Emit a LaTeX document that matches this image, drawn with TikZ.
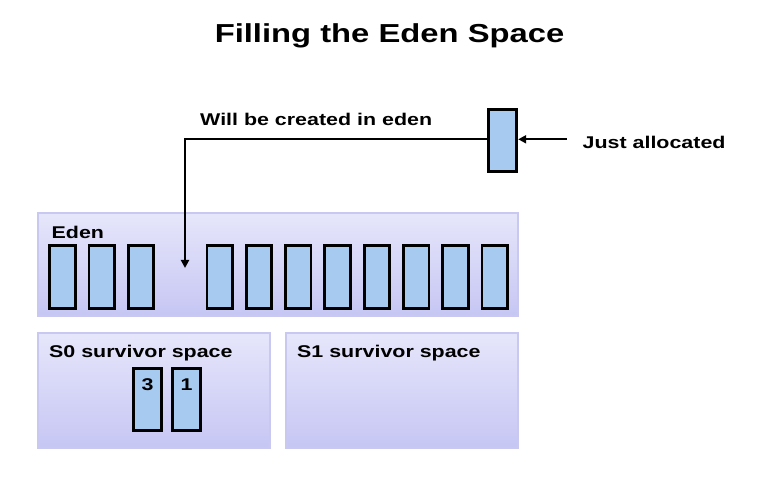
\documentclass[tikz,border=0pt]{standalone}
\usepackage{fontspec}
\setmainfont{Liberation Sans}[FakeStretch=1.26]
\usepackage{tikz}
\usetikzlibrary{positioning,arrows.meta}
\definecolor{cellblue}{HTML}{A6CAF0}
\definecolor{spacetop}{HTML}{E6E6FB}
\definecolor{spacebot}{HTML}{C6C6F4}
\definecolor{spaceedge}{HTML}{C8C8F0}
\tikzset{
  space/.style={draw=spaceedge, line width=2pt, top color=spacetop, bottom color=spacebot, inner sep=0pt},
  cell/.style={draw, line width=2.8pt, fill=cellblue, minimum width=25.5pt, minimum height=63pt, inner sep=0pt},
  lbl/.style={font=\bfseries\fontsize{17}{20}\selectfont, inner sep=0pt, anchor=base west},
  conn/.style={line width=2.4pt, -{Triangle[length=8pt,width=8pt]}}
}
\begin{document}
\begin{tikzpicture}[x=1pt,y=-1pt]
\useasboundingbox[fill=white] (0,0) rectangle (758,478);
%TITLE
\node[font=\bfseries\fontsize{26}{30}\selectfont, inner sep=0pt, anchor=base] (title) at (389.5,43) {Filling the Eden Space};
%SPACES
\node[space, minimum width=480pt, minimum height=103pt] (eden) at (278,264.5) {};
\node[space, minimum width=232pt, minimum height=115pt] (s0) at (153.7,390.8) {};
\node[space, minimum width=232pt, minimum height=115pt] (s1) at (402.2,390.8) {};
\node[lbl] (edenlbl) at (51.5,238.3) {Eden};
\node[lbl] (s0lbl) at (49,357.7) {S0 survivor space};
\node[lbl] (s1lbl) at (297,357.7) {S1 survivor space};
%EDEN CELLS
\foreach \k in {0,1,2,4,5,6,7,8,9,10,11}
  \node[cell] (e\k) at (62.5+39.3*\k,277.2) {};
\coordinate (slot) at (185,268);
%SURVIVOR CELLS
\node[cell, minimum width=28pt, minimum height=62pt] (c3) at (147.7,399.2) {};
\node[cell, minimum width=28pt, minimum height=62pt] (c1) at (186.5,399.2) {};
\node[lbl, anchor=base] at ([yshift=-24pt]c3.north) {3};
\node[lbl, anchor=base] at ([yshift=-24pt]c1.north) {1};
%NEW OBJECT
\node[cell, minimum width=28pt, minimum height=62pt] (new) at (502.8,140.8) {};
\coordinate (corner) at (185,139.3);
\coordinate (from) at (566.7,139.3);
\draw[conn] (new.west |- corner) -- (corner) -- (slot);
\draw[conn] (from) -- (new.east |- from);
\node[lbl] (willlbl) at (200,125.7) {Will be created in eden};
\node[lbl] (justlbl) at (582.5,149) {Just allocated};
\end{tikzpicture}
\end{document}
